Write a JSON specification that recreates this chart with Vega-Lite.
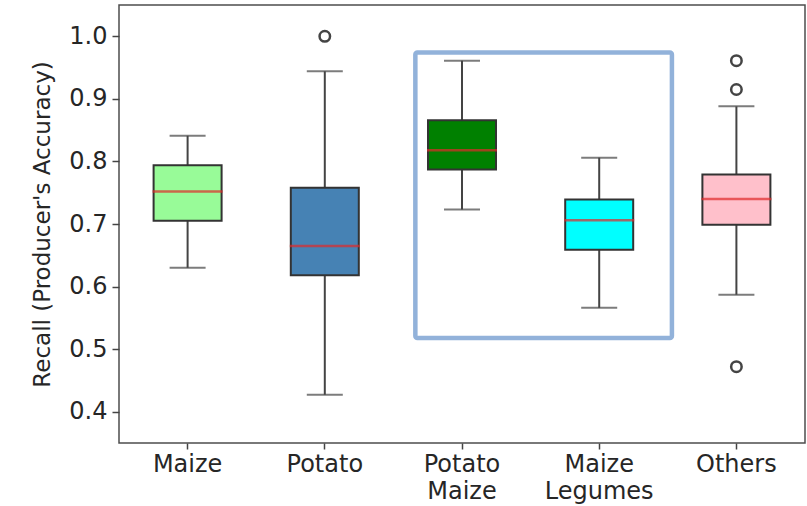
{
  "$schema": "https://vega.github.io/schema/vega-lite/v6.json",
  "width": 686,
  "height": 438,
  "autosize": {"type": "none"},
  "padding": {"left": 119, "top": 5, "right": 2, "bottom": 63},
  "background": "white",
  "config": {
    "view": {"stroke": "#4d4d4d", "strokeWidth": 1.5},
    "font": "DejaVu Sans",
    "axis": {
      "domain": false,
      "grid": false,
      "tickColor": "#444444",
      "tickWidth": 1.5,
      "labelFont": "DejaVu Sans",
      "labelFontSize": 24,
      "labelColor": "#262626",
      "titleFont": "DejaVu Sans",
      "titleFontSize": 23,
      "titleFontWeight": "normal",
      "titleColor": "#262626"
    }
  },
  "datasets": {
    "stats": [
      {"crop": "Maize", "lower": 0.630, "q1": 0.705, "median": 0.752, "q3": 0.794, "upper": 0.841},
      {"crop": "Potato", "lower": 0.427, "q1": 0.618, "median": 0.665, "q3": 0.758, "upper": 0.944},
      {"crop": "Potato Maize", "lower": 0.723, "q1": 0.787, "median": 0.818, "q3": 0.866, "upper": 0.961},
      {"crop": "Maize Legumes", "lower": 0.566, "q1": 0.659, "median": 0.706, "q3": 0.739, "upper": 0.806},
      {"crop": "Others", "lower": 0.587, "q1": 0.699, "median": 0.740, "q3": 0.779, "upper": 0.888}
    ],
    "outliers": [
      {"crop": "Potato", "value": 1.0},
      {"crop": "Others", "value": 0.961},
      {"crop": "Others", "value": 0.915},
      {"crop": "Others", "value": 0.472}
    ],
    "highlight": [
      {"start": 2.16, "end": 4.03, "top": 0.974, "bottom": 0.518}
    ]
  },
  "layer": [
    {
      "layer": [
        {
          "data": {"name": "stats"},
          "mark": {"type": "rule", "color": "#444444", "strokeWidth": 2},
          "encoding": {
            "y": {"field": "lower", "type": "quantitative"},
            "y2": {"field": "upper"}
          }
        },
        {
          "data": {"name": "stats"},
          "mark": {"type": "tick", "color": "#444444", "thickness": 2, "size": 36, "orient": "horizontal"},
          "encoding": {"y": {"field": "lower", "type": "quantitative"}}
        },
        {
          "data": {"name": "stats"},
          "mark": {"type": "tick", "color": "#444444", "thickness": 2, "size": 36, "orient": "horizontal"},
          "encoding": {"y": {"field": "upper", "type": "quantitative"}}
        },
        {
          "data": {"name": "stats"},
          "mark": {"type": "bar", "size": 68, "stroke": "#333333", "strokeWidth": 2},
          "encoding": {
            "y": {"field": "q1", "type": "quantitative"},
            "y2": {"field": "q3"},
            "fill": {
              "field": "crop",
              "type": "nominal",
              "scale": {
                "domain": ["Maize", "Potato", "Potato Maize", "Maize Legumes", "Others"],
                "range": ["#98fb98", "#4682b4", "#008000", "#00ffff", "#ffc0cb"]
              },
              "legend": null
            }
          }
        },
        {
          "data": {"name": "stats"},
          "mark": {"type": "tick", "color": "#e02a2a", "thickness": 2.5, "size": 70, "orient": "horizontal"},
          "encoding": {"y": {"field": "median", "type": "quantitative"}}
        },
        {
          "data": {"name": "outliers"},
          "mark": {"type": "point", "shape": "circle", "filled": false, "stroke": "#444444", "strokeWidth": 2.5, "size": 110, "opacity": 1},
          "encoding": {
            "y": {"field": "value", "type": "quantitative"}
          }
        }
      ],
      "encoding": {
        "x": {
          "field": "crop",
          "type": "nominal",
          "sort": ["Maize", "Potato", "Potato Maize", "Maize Legumes", "Others"],
          "scale": {"paddingInner": 0, "paddingOuter": 0},
          "axis": {
            "title": null,
            "labelAngle": 0,
            "tickSize": 6,
            "labelPadding": 3,
            "labelLineHeight": 27,
            "labelExpr": "split(datum.label, ' ')"
          }
        },
        "y": {
          "type": "quantitative",
          "scale": {"domain": [0.35, 1.05], "nice": false, "zero": false},
          "axis": {
            "title": "Recall (Producer's Accuracy)",
            "values": [0.4, 0.5, 0.6, 0.7, 0.8, 0.9, 1.0],
            "format": ".1f",
            "tickSize": 7,
            "labelPadding": 5,
            "titlePadding": 14
          }
        }
      }
    },
    {
      "data": {"name": "highlight"},
      "mark": {"type": "rect", "filled": false, "stroke": "#92b2da", "strokeWidth": 4.5, "cornerRadius": 2},
      "encoding": {
        "x": {"field": "start", "type": "quantitative", "scale": {"domain": [0, 5], "nice": false, "zero": false}, "axis": null},
        "x2": {"field": "end"},
        "y": {"field": "top", "type": "quantitative"},
        "y2": {"field": "bottom"}
      }
    }
  ],
  "resolve": {"scale": {"x": "independent"}, "axis": {"x": "independent"}}
}
